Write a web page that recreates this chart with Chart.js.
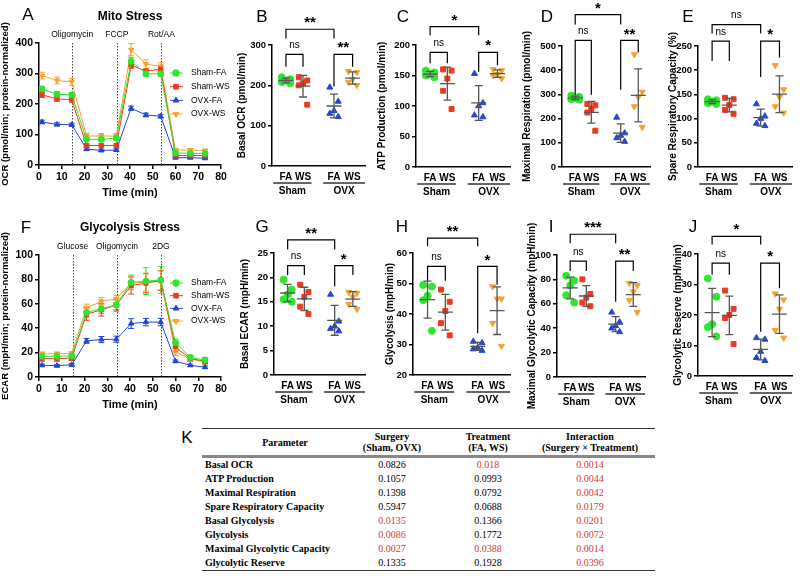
<!DOCTYPE html>
<html>
<head>
<meta charset="UTF-8">
<title>Mito / Glycolysis stress</title>
<script src="https://cdn.jsdelivr.net/npm/chart.js@4.4.0/dist/chart.umd.min.js"></script>
<style>
body { margin:0; background:#fff; }
#page { position:relative; width:800px; height:580px; overflow:hidden; background:#fff; }
.box { position:absolute; }
.letter { position:absolute; font:17px 'Liberation Sans', Arial, sans-serif; transform:translate(-50%,-50%); color:#000; }
#anova { position:absolute; left:202px; top:428px; width:453px; border-collapse:collapse; font:10px 'Liberation Serif', 'Times New Roman', serif; color:#000; table-layout:fixed; }
#anova thead tr { border-top:1.5px solid #333; border-bottom:3px solid #888; }
#anova th { font-weight:bold; line-height:11px; padding:2px 0 2px 0; text-align:center; white-space:nowrap; }
#anova td { height:14px; line-height:14px; padding:0; text-align:center; white-space:nowrap; }
#anova td.p { text-align:left; font-weight:bold; padding-left:3px; }
#anova tbody tr:last-child { border-bottom:1.5px solid #333; }
#anova .sig { color:#d23a32; }
</style>
</head>
<body>
<div id="page"></div>
<script>
// groups, time points
const groups = ['Sham-FA', 'Sham-WS', 'OVX-FA', 'OVX-WS'];
const timeMin = [1.3, 7.9, 14.4, 20.9, 27.4, 34.0, 40.5, 47.0, 53.5, 60.0, 66.5, 73.0];

// A - mito stress OCR (mean, SEM)
const ocrShamFA = [249, 232, 230, 84, 84, 88, 340, 299, 299, 40, 38, 38];
const ocrShamWS = [230, 217, 214, 64, 64, 64, 327, 308, 314, 31, 31, 31];
const ocrOvxFA = [141, 133, 132, 52, 48, 49, 186, 164, 160, 24, 24, 22];
const ocrOvxWS = [293, 277, 273, 95, 95, 95, 378, 331, 323, 49, 49, 47];
const ocrShamFAErr = [9, 8, 8, 6, 6, 6, 12, 8, 8, 4, 4, 4];
const ocrShamWSErr = [8, 8, 8, 5, 5, 5, 10, 8, 10, 3, 3, 3];
const ocrOvxFAErr = [6, 5, 5, 4, 4, 4, 7, 6, 6, 2, 2, 2];
const ocrOvxWSErr = [11, 11, 11, 8, 8, 8, 20, 14, 12, 5, 5, 5];

// F - glycolysis stress ECAR (mean, SEM)
const ecarShamFA = [17, 17, 17.3, 53, 56, 59, 77.5, 78.6, 79.5, 28, 16, 14];
const ecarShamWS = [15, 15, 15.6, 51.5, 55, 59, 75, 77, 79, 24.7, 15, 13];
const ecarOvxFA = [9.6, 9.3, 10, 29.6, 30.7, 31, 43.8, 45, 45, 12.9, 9.6, 8];
const ecarOvxWS = [19, 19, 19.5, 56.7, 62, 64, 77, 77.5, 79.5, 20.5, 15, 12];
const ecarShamFAErr = [2, 2, 2, 4, 4, 4, 6, 11, 11, 3, 2, 2];
const ecarShamWSErr = [2, 2, 2, 5, 5, 5, 7, 8, 8, 3, 2, 2];
const ecarOvxFAErr = [1, 1, 1, 2, 2.5, 2.5, 4, 3, 3, 1, 1, 1];
const ecarOvxWSErr = [1.5, 1.5, 1.5, 3, 3, 3, 5, 7, 8, 3, 2, 2];

const mitoInjections = [[14.6, 'Oligomycin'], [34.2, 'FCCP'], [53.8, 'Rot/AA']];
const glycoInjections = [[14.8, 'Glucose'], [34.3, 'Oligomycin'], [53.6, '2DG']];

// dot plots, each row: Sham-FA, Sham-WS, OVX-FA, OVX-WS
const basalOCR = [[220, 215, 212, 208, 205], [220, 212, 205, 200, 152], [195, 160, 137, 130, 122], [235, 232, 215, 208, 200]];
const atpProduction = [[158, 155, 152, 150, 147], [160, 158, 145, 125, 95], [153, 105, 100, 85, 82], [160, 158, 152, 150, 145]];
const maxRespiration = [[295, 290, 285, 280, 278], [260, 255, 240, 225, 150], [205, 140, 130, 120, 105], [465, 310, 290, 250, 165]];
const spareCapacity = [[140, 138, 135, 132, 130], [143, 140, 128, 118, 110], [130, 105, 100, 90, 85], [210, 160, 145, 125, 112]];
const basalECAR = [[19.5, 17.5, 16.5, 15.5, 15], [18.5, 17, 16, 14, 12.5], [16.5, 11, 10, 9.5, 9], [17, 16.8, 16, 14.5, 13.5]];
const glycolysis = [[49.5, 49, 46, 44.5, 34.5], [48, 44, 41, 37, 33], [31, 30.5, 29, 28.5, 28], [49, 45, 45, 37, 29.5]];
const maxGlycCapacity = [[83, 79, 75, 67, 61], [80, 68, 65, 61, 58], [53, 45, 42, 40, 37], [77, 75, 70, 63, 53]];
const glycReserve = [[32, 26, 17, 16, 13], [28, 22, 20, 19, 10.5], [12.5, 12, 8, 6, 5], [27, 25, 22, 15, 12.5]];

const treatTicks = ['FA', 'WS', 'FA', 'WS'];
const surgeries = ['Sham', 'OVX'];

// K - two-way ANOVA p values
const params = ['Basal OCR', 'ATP Production', 'Maximal Respiration', 'Spare Respiratory Capacity',
  'Basal Glycolysis', 'Glycolysis', 'Maximal Glycolytic Capacity', 'Glycolytic Reserve'];
const pSurgery = ['0.0826', '0.1057', '0.1398', '0.5947', '0.0135', '0.0086', '0.0027', '0.1335'];
const pTreatment = ['0.018', '0.0993', '0.0792', '0.0688', '0.1366', '0.1772', '0.0388', '0.1928'];
const pInteraction = ['0.0014', '0.0044', '0.0042', '0.0179', '0.0201', '0.0072', '0.0014', '0.0396'];

// styles
const FONT = "'Liberation Sans', Arial, sans-serif";
Chart.defaults.font.family = FONT;
Chart.defaults.color = '#000';
const colors = ['#2ee62e', '#ec3a20', '#2446d4', '#f4a331'];
const shapes = ['circle', 'rect', 'triangle', 'triangle'];
const rots = [0, 0, 0, 180];
const groupPos = [0.9, 2.0, 4.0, 5.2];
const groupSpan = [[0.08, 2.55], [3.3, 6]];
const jitter = [-0.27, 0.27, 0, -0.27, 0.27];

const page = document.getElementById('page');

function box(l, t, w, h) {
  const d = document.createElement('div');
  d.className = 'box';
  d.style.cssText = 'left:' + l + 'px;top:' + t + 'px;width:' + w + 'px;height:' + h + 'px';
  const c = document.createElement('canvas');
  d.appendChild(c);
  page.appendChild(d);
  return c;
}

function letter(s, x, y) {
  const d = document.createElement('div');
  d.className = 'letter';
  d.style.left = x + 'px';
  d.style.top = y + 'px';
  d.textContent = s;
  page.appendChild(d);
}

function txt(ctx, s, x, y, font, align) {
  ctx.save();
  ctx.font = font;
  ctx.fillStyle = '#000';
  ctx.textAlign = align || 'center';
  ctx.textBaseline = 'middle';
  ctx.fillText(s, x, y);
  ctx.restore();
}

function mean(a) { return a.reduce((s, v) => s + v, 0) / a.length; }
function sd(a) { const m = mean(a); return Math.sqrt(a.reduce((s, v) => s + (v - m) * (v - m), 0) / (a.length - 1)); }

function yAxis(cfg, yw, tickSize, titleSize) {
  return {
    min: cfg.yMin, max: cfg.yMax,
    ticks: { stepSize: cfg.yStep, font: { size: tickSize, weight: 'bold' }, color: '#000', padding: 2 },
    title: { display: true, text: cfg.yTitle, font: { size: titleSize, weight: 'bold' }, color: '#000', padding: 0 },
    grid: { drawOnChartArea: false, tickLength: 4, color: '#000', lineWidth: 1.5 },
    border: { color: '#000', width: 1.5 },
    afterFit: s => { s.width = yw; }
  };
}

// ---------- time course panels (A, F) ----------
function timePanel(cfg) {
  const canvas = box(cfg.l, cfg.t, cfg.w, cfg.h);
  const yw = cfg.plotL - cfg.l;
  const xh = cfg.t + cfg.h - cfg.plotB;
  const extras = {
    id: 'timeExtras',
    beforeDatasetsDraw(chart) {
      const { ctx, scales: { x, y } } = chart;
      chart.data.datasets.forEach(ds => {
        ctx.save();
        ctx.strokeStyle = ds.borderColor;
        ctx.lineWidth = 1;
        ds.data.forEach((p, k) => {
          const e = ds.errors[k];
          const px = x.getPixelForValue(p.x);
          const y1 = y.getPixelForValue(p.y - e), y2 = y.getPixelForValue(p.y + e);
          ctx.beginPath();
          ctx.moveTo(px, y1); ctx.lineTo(px, y2);
          ctx.moveTo(px - 3, y1); ctx.lineTo(px + 3, y1);
          ctx.moveTo(px - 3, y2); ctx.lineTo(px + 3, y2);
          ctx.stroke();
        });
        ctx.restore();
      });
      // injection lines
      const a = chart.chartArea;
      ctx.save();
      ctx.strokeStyle = '#444';
      ctx.lineWidth = 1;
      ctx.setLineDash([1.5, 1.5]);
      cfg.injections.forEach(([t]) => {
        const px = Math.round(x.getPixelForValue(t)) + 0.5;
        ctx.beginPath(); ctx.moveTo(px, a.top); ctx.lineTo(px, a.bottom); ctx.stroke();
      });
      ctx.restore();
    },
    afterDraw(chart) {
      const { ctx, scales: { x } } = chart;
      const a = chart.chartArea;
      cfg.injections.forEach(([t, label]) => {
        txt(ctx, label, x.getPixelForValue(t), a.top - 8, '8.5px ' + FONT);
      });
      txt(ctx, cfg.title, 130 - cfg.l, cfg.titleY - cfg.t, 'bold 12px ' + FONT);
      // legend
      const lx = a.right - 45;
      chart.data.datasets.forEach((ds, i) => {
        const ly = a.top + cfg.legTop + i * cfg.legStep;
        ctx.save();
        ctx.strokeStyle = ds.borderColor; ctx.lineWidth = 1;
        ctx.beginPath(); ctx.moveTo(lx - 6, ly); ctx.lineTo(lx + 7, ly); ctx.stroke();
        ctx.fillStyle = ds.backgroundColor;
        Chart.helpers.drawPoint(ctx, { pointStyle: ds.pointStyle, rotation: ds.pointRotation, radius: 3.3, borderWidth: 1 }, lx, ly);
        ctx.restore();
        txt(ctx, ds.label, lx + 15, ly, '8.5px ' + FONT, 'left');
      });
    }
  };
  new Chart(canvas, {
    type: 'line',
    data: {
      datasets: cfg.series.map((s, g) => ({
        label: groups[g],
        data: timeMin.map((t, i) => ({ x: t, y: s[i] })),
        errors: cfg.errors[g],
        borderColor: colors[g], backgroundColor: colors[g],
        borderWidth: 1, pointStyle: shapes[g], pointRotation: rots[g],
        pointRadius: 3, pointBorderWidth: 1, tension: 0
      }))
    },
    options: {
      animation: false, responsive: true, maintainAspectRatio: false,
      layout: { padding: { top: cfg.plotT - cfg.t, right: cfg.l + cfg.w - cfg.plotR, left: 0, bottom: 0 } },
      plugins: { legend: { display: false }, tooltip: { enabled: false } },
      scales: {
        x: {
          type: 'linear', min: 0, max: 80,
          ticks: { stepSize: 10, font: { size: 10.5, weight: 'bold' }, color: '#000', padding: 2, maxRotation: 0 },
          title: { display: true, text: 'Time (min)', font: { size: 11, weight: 'bold' }, color: '#000', padding: 0 },
          grid: { drawOnChartArea: false, tickLength: 4, color: '#000', lineWidth: 1.5 },
          border: { color: '#000', width: 1.5 },
          afterFit: s => { s.height = xh; }
        },
        y: yAxis(cfg, yw, 10.5, 9.5)
      }
    },
    plugins: [extras]
  });
}

// ---------- dot plot panels (B-E, G-J) ----------
function dotPanel(cfg) {
  const canvas = box(cfg.l, cfg.t, cfg.w, cfg.h);
  const yw = cfg.plotL - cfg.l;
  const xh = cfg.t + cfg.h - cfg.plotB;
  const extras = {
    id: 'dotExtras',
    afterDatasetsDraw(chart) {
      const { ctx, scales: { x, y } } = chart;
      ctx.save();
      ctx.strokeStyle = '#555';
      ctx.lineWidth = 1.3;
      cfg.values.forEach((vals, g) => {
        const m = mean(vals), s = sd(vals);
        const px = x.getPixelForValue(groupPos[g]);
        const ym = y.getPixelForValue(m), yt = y.getPixelForValue(m + s), yb = y.getPixelForValue(m - s);
        ctx.beginPath();
        ctx.moveTo(px - 7.5, ym); ctx.lineTo(px + 7.5, ym);
        ctx.moveTo(px, yt); ctx.lineTo(px, yb);
        ctx.moveTo(px - 4, yt); ctx.lineTo(px + 4, yt);
        ctx.moveTo(px - 4, yb); ctx.lineTo(px + 4, yb);
        ctx.stroke();
      });
      ctx.restore();
    },
    afterDraw(chart) {
      const { ctx, scales: { x, y } } = chart;
      const a = chart.chartArea;
      ctx.save();
      ctx.strokeStyle = '#000';
      ctx.lineWidth = 1.2;
      cfg.brackets.forEach(b => {
        const x1 = x.getPixelForValue(groupPos[b.a]), x2 = x.getPixelForValue(groupPos[b.b]);
        const yb = y.getPixelForValue(b.y);
        ctx.beginPath();
        ctx.moveTo(x1, y.getPixelForValue(b.l)); ctx.lineTo(x1, yb);
        ctx.lineTo(x2, yb); ctx.lineTo(x2, y.getPixelForValue(b.r));
        ctx.stroke();
        if (b.t === 'ns') txt(ctx, 'ns', (x1 + x2) / 2, yb - 9, '10px ' + FONT);
        else txt(ctx, b.t, (x1 + x2) / 2, yb - 6, 'bold 15px ' + FONT);
      });
      // surgery group labels
      ctx.lineWidth = 1.5;
      ctx.strokeStyle = '#333';
      groupSpan.forEach((sp, i) => {
        const x1 = x.getPixelForValue(sp[0]), x2 = x.getPixelForValue(sp[1]);
        ctx.beginPath(); ctx.moveTo(x1, a.bottom + 17); ctx.lineTo(x2, a.bottom + 17); ctx.stroke();
        txt(ctx, surgeries[i], (x1 + x2) / 2, a.bottom + 25, 'bold 10px ' + FONT);
      });
      ctx.restore();
    }
  };
  new Chart(canvas, {
    type: 'scatter',
    data: {
      datasets: cfg.values.map((vals, g) => ({
        label: groups[g],
        data: vals.map((v, i) => ({ x: groupPos[g] + jitter[i], y: v })),
        backgroundColor: colors[g], borderColor: colors[g],
        pointStyle: shapes[g], pointRotation: rots[g], pointRadius: 3.5, pointBorderWidth: 1
      }))
    },
    options: {
      animation: false, responsive: true, maintainAspectRatio: false,
      layout: { padding: { top: cfg.plotT - cfg.t, right: cfg.l + cfg.w - cfg.plotR, left: 0, bottom: 0 } },
      plugins: { legend: { display: false }, tooltip: { enabled: false } },
      scales: {
        x: {
          type: 'linear', min: 0, max: 6,
          afterBuildTicks: s => { s.ticks = groupPos.map(v => ({ value: v })); },
          ticks: { callback: (v, i) => treatTicks[i], font: { size: 10, weight: 'bold' }, color: '#000', padding: 5, autoSkip: false, maxRotation: 0 },
          grid: { display: false, drawTicks: false },
          border: { color: '#000', width: 1.5 },
          afterFit: s => { s.height = xh; }
        },
        y: yAxis(cfg, yw, 9.5, 10)
      }
    },
    plugins: [extras]
  });
}

timePanel({ l: 0, t: 0, w: 240, h: 200, plotL: 39, plotT: 43, plotR: 221, plotB: 165,
  series: [ocrShamFA, ocrShamWS, ocrOvxFA, ocrOvxWS], errors: [ocrShamFAErr, ocrShamWSErr, ocrOvxFAErr, ocrOvxWSErr],
  yMin: 0, yMax: 400, yStep: 100, yTitle: 'OCR (pmol/min; protein-normalized)',
  title: 'Mito Stress', titleY: 17, injections: mitoInjections, legTop: 30, legStep: 13.7 });

timePanel({ l: 0, t: 200, w: 240, h: 212, plotL: 39, plotT: 255, plotR: 221, plotB: 377,
  series: [ecarShamFA, ecarShamWS, ecarOvxFA, ecarOvxWS], errors: [ecarShamFAErr, ecarShamWSErr, ecarOvxFAErr, ecarOvxWSErr],
  yMin: 0, yMax: 100, yStep: 20, yTitle: 'ECAR (mpH/min; protein-normalized)',
  title: 'Glycolysis Stress', titleY: 228, injections: glycoInjections, legTop: 28, legStep: 12.7 });

dotPanel({ l: 236, t: 0, w: 134, h: 200, plotL: 272, plotT: 45, plotR: 365, plotB: 166,
  values: basalOCR, yMin: 0, yMax: 300, yStep: 100, yTitle: 'Basal OCR (pmol/min)',
  brackets: [{ a: 0, b: 2, y: 339, l: 316, r: 316, t: '**' }, { a: 0, b: 1, y: 277, l: 246, r: 246, t: 'ns' }, { a: 2, b: 3, y: 277, l: 197, r: 246, t: '**' }] });
dotPanel({ l: 376, t: 0, w: 139, h: 200, plotL: 416, plotT: 45, plotR: 510, plotB: 167,
  values: atpProduction, yMin: 0, yMax: 200, yStep: 50, yTitle: 'ATP Production (pmol/min)',
  brackets: [{ a: 0, b: 2, y: 230, l: 216, r: 216, t: '*' }, { a: 0, b: 1, y: 188, l: 170, r: 170, t: 'ns' }, { a: 2, b: 3, y: 188, l: 156, r: 167, t: '*' }] });
dotPanel({ l: 521, t: 0, w: 134, h: 200, plotL: 562, plotT: 46, plotR: 651, plotB: 167,
  values: maxRespiration, yMin: 0, yMax: 500, yStep: 100, yTitle: 'Maximal Respiration (pmol/min)',
  brackets: [{ a: 0, b: 2, y: 630, l: 589, r: 589, t: '*' }, { a: 0, b: 1, y: 523, l: 299, r: 299, t: 'ns' }, { a: 2, b: 3, y: 523, l: 319, r: 473, t: '**' }] });
dotPanel({ l: 667, t: 0, w: 131, h: 200, plotL: 698, plotT: 46, plotR: 792, plotB: 167,
  values: spareCapacity, yMin: 0, yMax: 250, yStep: 50, yTitle: 'Spare Respiratory Capacity (%)',
  brackets: [{ a: 0, b: 2, y: 294, l: 276, r: 276, t: 'ns' }, { a: 0, b: 1, y: 260, l: 219, r: 219, t: 'ns' }, { a: 2, b: 3, y: 260, l: 186, r: 226, t: '*' }] });

dotPanel({ l: 239, t: 200, w: 131, h: 212, plotL: 274, plotT: 253, plotR: 365, plotB: 375,
  values: basalECAR, yMin: 0, yMax: 25, yStep: 5, yTitle: 'Basal ECAR (mpH/min)',
  brackets: [{ a: 0, b: 2, y: 27.7, l: 25.7, r: 25.7, t: '**' }, { a: 0, b: 1, y: 22.4, l: 20.5, r: 20.5, t: 'ns' }, { a: 2, b: 3, y: 22.4, l: 18.2, r: 20.5, t: '*' }] });
dotPanel({ l: 384, t: 200, w: 131, h: 212, plotL: 413, plotT: 253, plotR: 510, plotB: 375,
  values: glycolysis, yMin: 20, yMax: 60, yStep: 10, yTitle: 'Glycolysis (mpH/min)',
  brackets: [{ a: 0, b: 2, y: 64.9, l: 62.2, r: 62.2, t: '**' }, { a: 0, b: 1, y: 55.6, l: 50.9, r: 50.9, t: 'ns' }, { a: 2, b: 3, y: 55.6, l: 33.7, r: 49.6, t: '*' }] });
dotPanel({ l: 526, t: 200, w: 124, h: 212, plotL: 557, plotT: 255, plotR: 647, plotB: 377,
  values: maxGlycCapacity, yMin: 0, yMax: 100, yStep: 20, yTitle: 'Maximal Glycolytic Capacity (mpH/min)',
  brackets: [{ a: 0, b: 2, y: 117, l: 109.6, r: 109.6, t: '***' }, { a: 0, b: 1, y: 95, l: 86.8, r: 86.8, t: 'ns' }, { a: 2, b: 3, y: 95, l: 61.6, r: 86.8, t: '**' }] });
dotPanel({ l: 672, t: 200, w: 126, h: 212, plotL: 698, plotT: 254, plotR: 792, plotB: 376,
  values: glycReserve, yMin: 0, yMax: 40, yStep: 10, yTitle: 'Glycolytic Reserve (mpH/min)',
  brackets: [{ a: 0, b: 2, y: 45.8, l: 43.1, r: 43.1, t: '*' }, { a: 0, b: 1, y: 37, l: 33.2, r: 33.2, t: 'ns' }, { a: 2, b: 3, y: 37, l: 14.5, r: 28.8, t: '*' }] });

[['A', 28, 15], ['B', 262, 17], ['C', 403, 17], ['D', 547, 17], ['E', 688, 17],
 ['F', 26, 228], ['G', 262, 227], ['H', 402, 227], ['I', 551, 227], ['J', 693, 227], ['K', 187, 438]]
  .forEach(l => letter(l[0], l[1], l[2]));

// table K
function cell(v, extra) { return '<td' + (parseFloat(v) < 0.05 ? ' class="sig"' : '') + (extra || '') + '>' + v + '</td>'; }
let html = '<colgroup><col style="width:138px"><col style="width:104px"><col style="width:88px"><col style="width:123px"></colgroup>';
html += '<thead><tr><th style="padding-left:28px">Parameter</th><th>Surgery<br>(Sham, OVX)</th><th>Treatment<br>(FA, WS)</th><th style="padding-right:7px">Interaction<br>(Surgery × Treatment)</th></tr></thead><tbody>';
params.forEach((p, i) => {
  html += '<tr><td class="p">' + p + '</td>' + cell(pSurgery[i]) + cell(pTreatment[i]) +
    cell(pInteraction[i], ' style="padding-right:7px"') + '</tr>';
});
html += '</tbody>';
const table = document.createElement('table');
table.id = 'anova';
table.innerHTML = html;
page.appendChild(table);
</script>
</body>
</html>
